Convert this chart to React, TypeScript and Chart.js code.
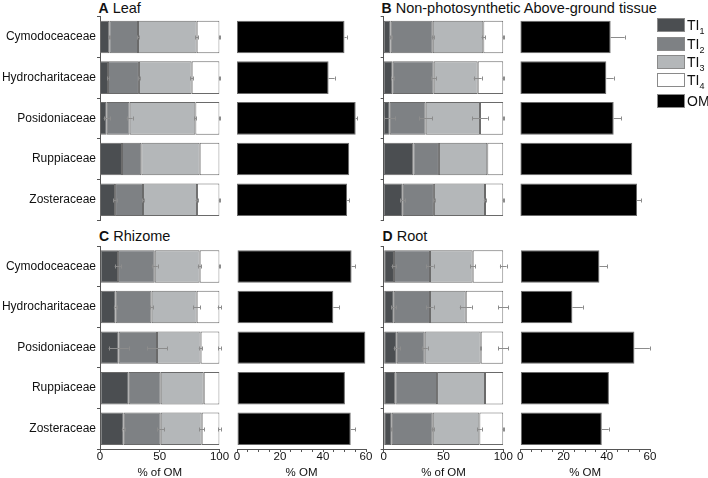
import React, { useEffect, useRef } from 'react';
import { Chart, registerables } from 'chart.js';

Chart.register(...registerables);

// ---------- data ----------
const categories = ['Cymodoceaceae', 'Hydrocharitaceae', 'Posidoniaceae', 'Ruppiaceae', 'Zosteraceae'];
const tiLabels = ['TI1', 'TI2', 'TI3', 'TI4'];
const stackTicks = [0, 50, 100];
const omTickLabels = [0, 20, 40, 60];

// A Leaf
const leafTI1 = [7.8, 6.7, 5.6, 18.4, 12.6];
const leafTI2 = [24.0, 25.9, 19.2, 16.2, 23.4];
const leafTI3 = [49.1, 44.1, 55.0, 48.8, 45.2];
const leafTI4 = [19.1, 23.3, 20.2, 16.6, 18.8];
const leafTI1Err = [0.5, 0.5, 2.5, 0, 1.5];
const leafTI2Err = [0.8, 0.8, 2.5, 0, 0.8];
const leafTI3Err = [1.2, 1.2, 0.8, 0, 1.2];
const leafTI4Err = [0.5, 0.5, 0.5, 0, 0.5];
const leafOM = [50.0, 42.6, 55.2, 52.2, 51.2];
const leafOMErr = [1.0, 2.8, 0.6, 0, 1.0];

// B Non-photosynthetic Above-ground tissue
const npTI1 = [5.8, 7.5, 5.0, 24.8, 15.9];
const npTI2 = [35.2, 34.3, 30.1, 21.4, 26.1];
const npTI3 = [42.3, 36.8, 45.4, 40.4, 42.7];
const npTI4 = [16.7, 21.4, 19.5, 13.4, 15.3];
const npTI1Err = [0.8, 1.0, 4.7, 0, 2.0];
const npTI2Err = [1.0, 2.0, 5.3, 0, 0.8];
const npTI3Err = [1.5, 3.3, 6.5, 0, 1.0];
const npTI4Err = [0.5, 0.5, 0.3, 0, 0.5];
const npOM = [41.8, 39.8, 43.2, 51.8, 54.0];
const npOMErr = [6.5, 3.4, 3.4, 0, 2.0];

// C Rhizome
const rhTI1 = [15.1, 13.1, 15.6, 24.0, 19.8];
const rhTI2 = [30.7, 30.1, 32.1, 26.8, 31.0];
const rhTI3 = [37.6, 37.7, 36.5, 36.0, 34.3];
const rhTI4 = [16.6, 19.1, 15.8, 13.2, 14.9];
const rhTI1Err = [2.8, 1.5, 8.4, 0, 1.5];
const rhTI2Err = [2.5, 1.5, 8.4, 0, 3.0];
const rhTI3Err = [1.5, 3.0, 1.5, 0, 2.0];
const rhTI4Err = [0.5, 1.5, 1.0, 0, 1.0];
const rhOM = [53.3, 44.8, 59.7, 50.2, 52.9];
const rhOMErr = [1.7, 2.8, 0, 0, 2.0];

// D Root
const rtTI1 = [8.6, 8.4, 10.9, 9.7, 6.7];
const rtTI2 = [30.1, 30.3, 23.4, 34.9, 34.3];
const rtTI3 = [35.7, 29.9, 46.8, 40.1, 39.0];
const rtTI4 = [25.6, 31.4, 18.9, 15.3, 20.0];
const rtTI1Err = [2.0, 2.0, 2.5, 0, 0.5];
const rtTI2Err = [3.0, 3.0, 2.5, 0, 1.0];
const rtTI3Err = [2.0, 5.0, 0.5, 0, 2.0];
const rtTI4Err = [2.8, 4.3, 4.3, 0, 0.5];
const rtOM = [36.6, 24.1, 52.8, 41.0, 37.7];
const rtOMErr = [3.7, 4.8, 7.1, 0, 3.2];

// ---------- styles ----------
const tiColors = ['#4b4e51', '#7e8184', '#b4b7b9', '#ffffff'];
const omColor = '#000000';
const AXIS = '#555555';
const BAR_BORDER = '#6a6a6a';
const ERR = '#8c8c8c';
const FONT = "'Liberation Sans', Arial, Helvetica, sans-serif";

const errorPlugin = {
  id: 'errorBars',
  afterDatasetsDraw(chart: any) {
    const ctx = chart.ctx;
    const xs = chart.scales.x;
    const dsets = chart.data.datasets;
    dsets.forEach((ds: any, di: number) => {
      const errs = ds.errors;
      if (!errs) return;
      const meta = chart.getDatasetMeta(di);
      meta.data.forEach((bar: any, i: number) => {
        const e = errs[i];
        if (!e) return;
        let cum = 0;
        for (let k = 0; k <= di; k++) cum += dsets[k].data[i];
        const x1 = ds.oneSided ? xs.getPixelForValue(cum) : xs.getPixelForValue(cum - e);
        const x2 = xs.getPixelForValue(cum + e);
        const y = Math.round(bar.y) + 0.5;
        ctx.save();
        ctx.strokeStyle = ERR;
        ctx.lineWidth = 1;
        ctx.beginPath();
        ctx.moveTo(x1, y);
        ctx.lineTo(x2, y);
        if (!ds.oneSided) {
          ctx.moveTo(Math.round(x1) + 0.5, y - 2);
          ctx.lineTo(Math.round(x1) + 0.5, y + 2);
        }
        ctx.moveTo(Math.round(x2) + 0.5, y - 2);
        ctx.lineTo(Math.round(x2) + 0.5, y + 2);
        ctx.stroke();
        ctx.restore();
      });
    });
  },
};

type Pad = { top: number; bottom: number; left: number; right: number };

function xAxis(show: boolean, max: number, step: number, title: string, labelVals: number[], xHeight: number) {
  return {
    type: 'linear',
    min: 0,
    max,
    display: show,
    grid: { drawOnChartArea: false, drawTicks: true, tickLength: 3, color: AXIS },
    border: { display: true, color: AXIS, width: 1 },
    ticks: {
      stepSize: step,
      autoSkip: false,
      maxRotation: 0,
      padding: 0,
      color: '#111',
      font: { family: FONT, size: 11.5, lineHeight: 0.9 },
      callback: (v: number) => (labelVals.includes(v) ? String(v) : ''),
    },
    title: {
      display: true,
      text: title,
      color: '#111',
      padding: 0,
      font: { family: FONT, size: 11.5, lineHeight: '10px' },
    },
    afterFit: (s: any) => {
      if (show) s.height = xHeight;
    },
  };
}

function stackConfig(ti: number[][], errs: number[][], showLabels: boolean, showX: boolean, yWidth: number, padding: Pad, xHeight: number) {
  return {
    type: 'bar',
    data: {
      labels: categories,
      datasets: ti.map((d, k) => ({
        label: tiLabels[k],
        data: d,
        errors: errs[k],
        backgroundColor: tiColors[k],
        borderColor: BAR_BORDER,
        borderWidth: 1,
        borderSkipped: false,
        categoryPercentage: 1,
        barPercentage: 0.8,
      })),
    },
    options: {
      indexAxis: 'y',
      responsive: false,
      animation: false,
      devicePixelRatio: 1,
      layout: { padding },
      plugins: { legend: { display: false }, tooltip: { enabled: false } },
      scales: {
        x: { ...xAxis(showX, 100, 50, '% of OM', stackTicks, xHeight), stacked: true },
        y: {
          stacked: true,
          display: true,
          grid: { display: true, drawOnChartArea: false, drawTicks: true, tickLength: 3, offset: true, color: AXIS },
          border: { display: true, color: AXIS, width: 1 },
          ticks: { display: showLabels, padding: 1, color: '#111', font: { family: FONT, size: 12 } },
          afterFit: (s: any) => {
            s.width = yWidth;
          },
        },
      },
    },
    plugins: [errorPlugin],
  };
}

function omConfig(om: number[], err: number[], showX: boolean, padding: Pad, xHeight: number) {
  return {
    type: 'bar',
    data: {
      labels: categories,
      datasets: [
        {
          label: 'OM',
          data: om,
          errors: err,
          oneSided: true,
          backgroundColor: omColor,
          borderColor: BAR_BORDER,
          borderWidth: 1,
          borderSkipped: false,
          categoryPercentage: 1,
          barPercentage: 0.8,
        },
      ],
    },
    options: {
      indexAxis: 'y',
      responsive: false,
      animation: false,
      devicePixelRatio: 1,
      layout: { padding },
      plugins: { legend: { display: false }, tooltip: { enabled: false } },
      scales: {
        x: xAxis(showX, 60, 5, '% OM', omTickLabels, xHeight),
        y: { display: false },
      },
    },
    plugins: [errorPlugin],
  };
}

function ChartCanvas({ left, top, width, height, config }: any) {
  const ref = useRef<HTMLCanvasElement | null>(null);
  useEffect(() => {
    const chart = new Chart(ref.current as HTMLCanvasElement, config);
    return () => chart.destroy();
  }, []);
  return (
    <canvas
      ref={ref}
      width={width}
      height={height}
      style={{ position: 'absolute', left, top, width, height }}
    />
  );
}

function PanelTitle({ left, top, letter, text }: any) {
  return (
    <div
      style={{
        position: 'absolute',
        left,
        top,
        fontFamily: FONT,
        fontSize: 14.5,
        lineHeight: '14.5px',
        color: '#111',
        whiteSpace: 'nowrap',
      }}
    >
      <span style={{ fontWeight: 'bold', fontSize: 14 }}>{letter}</span> {text}
    </div>
  );
}

const legendItems = [
  { color: tiColors[0], main: 'TI', sub: '1', top: 18 },
  { color: tiColors[1], main: 'TI', sub: '2', top: 37 },
  { color: tiColors[2], main: 'TI', sub: '3', top: 55 },
  { color: tiColors[3], main: 'TI', sub: '4', top: 73 },
  { color: omColor, main: 'OM', sub: '', top: 94 },
];

export default function App() {
  const TOP_H = 232;
  const BOT_H = 253;
  const topPad = (l: number, r: number): Pad => ({ top: 16.6, bottom: TOP_H - 220.1, left: l, right: r });
  const botPad = (l: number, r: number): Pad => ({ top: 21.2, bottom: 0, left: l, right: r });
  const XH = 29;

  return (
    <div style={{ position: 'fixed', left: 0, top: 0, width: 708, height: 478, background: '#fff', overflow: 'hidden' }}>
      <PanelTitle left={98.5} top={1.2} letter="A" text="Leaf" />
      <PanelTitle left={381.5} top={1.2} letter="B" text="Non-photosynthetic Above-ground tissue" />
      <PanelTitle left={99} top={228.8} letter="C" text="Rhizome" />
      <PanelTitle left={382.5} top={228.8} letter="D" text="Root" />

      <ChartCanvas left={0} top={0} width={235} height={TOP_H}
        config={stackConfig([leafTI1, leafTI2, leafTI3, leafTI4], [leafTI1Err, leafTI2Err, leafTI3Err, leafTI4Err], true, false, 100, topPad(0, 15.5), XH)} />
      <ChartCanvas left={225} top={0} width={155} height={TOP_H}
        config={omConfig(leafOM, leafOMErr, false, topPad(12, 14), XH)} />
      <ChartCanvas left={372} top={0} width={143} height={TOP_H}
        config={stackConfig([npTI1, npTI2, npTI3, npTI4], [npTI1Err, npTI2Err, npTI3Err, npTI4Err], false, false, 11.7, topPad(0, 11.7), XH)} />
      <ChartCanvas left={508} top={0} width={150} height={TOP_H}
        config={omConfig(npOM, npOMErr, false, topPad(12.3, 8), XH)} />

      <ChartCanvas left={0} top={225} width={235} height={BOT_H}
        config={stackConfig([rhTI1, rhTI2, rhTI3, rhTI4], [rhTI1Err, rhTI2Err, rhTI3Err, rhTI4Err], true, true, 100, botPad(0, 15.5), XH)} />
      <ChartCanvas left={225} top={225} width={155} height={BOT_H}
        config={omConfig(rhOM, rhOMErr, true, botPad(12, 14), XH)} />
      <ChartCanvas left={372} top={225} width={143} height={BOT_H}
        config={stackConfig([rtTI1, rtTI2, rtTI3, rtTI4], [rtTI1Err, rtTI2Err, rtTI3Err, rtTI4Err], false, true, 11.7, botPad(0, 11.7), XH)} />
      <ChartCanvas left={508} top={225} width={150} height={BOT_H}
        config={omConfig(rtOM, rtOMErr, true, botPad(12.3, 8), XH)} />

      {legendItems.map((it) => (
        <React.Fragment key={it.main + it.sub}>
          <div
            style={{
              position: 'absolute',
              left: 657,
              top: it.top,
              width: 26,
              height: 12,
              background: it.color,
              border: '1px solid #8a8a8a',
            }}
          />
          <div
            style={{
              position: 'absolute',
              left: 687,
              top: it.top - 1,
              fontFamily: FONT,
              fontSize: 14,
              lineHeight: '16px',
              color: '#111',
              whiteSpace: 'nowrap',
            }}
          >
            {it.main}
            {it.sub ? <sub style={{ fontSize: 9, verticalAlign: -4 }}>{it.sub}</sub> : null}
          </div>
        </React.Fragment>
      ))}
    </div>
  );
}
